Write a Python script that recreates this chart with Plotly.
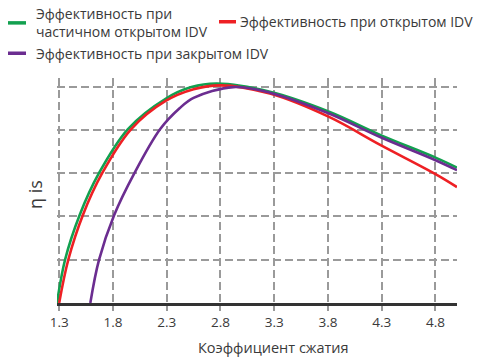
import plotly.graph_objects as go

# Compression ratio vs isentropic efficiency (grid units, no y labels)
x_partial = [1.28, 1.355, 1.49, 1.67, 1.94, 2.29, 2.53, 2.77, 3.26, 3.81, 4.29, 4.80, 5.00]
y_partial = [0.00, 1.00, 2.03, 3.00, 4.02, 4.72, 4.99, 5.07, 4.88, 4.42, 3.88, 3.36, 3.13]

x_open = [1.30, 1.385, 1.52, 1.70, 1.97, 2.29, 2.55, 2.80, 3.26, 3.81, 4.29, 4.80, 5.00]
y_open = [0.00, 1.00, 2.03, 3.00, 4.02, 4.67, 4.94, 5.03, 4.84, 4.30, 3.65, 2.98, 2.68]

x_closed = [1.59, 1.67, 1.81, 2.00, 2.24, 2.42, 2.55, 2.92, 3.26, 3.81, 4.29, 4.80, 5.00]
y_closed = [0.00, 0.99, 2.02, 3.00, 4.02, 4.50, 4.74, 4.99, 4.86, 4.38, 3.83, 3.30, 3.07]

x_ticks = [1.3, 1.8, 2.3, 2.8, 3.3, 3.8, 4.3, 4.8]
x_ticklabels = ["1.3", "1.8", "2.3", "2.8", "3.3", "3.8", "4.3", "4.8"]

names = ["Эффективность при<br>частичном открытом IDV",
         "Эффективность при открытом IDV",
         "Эффективность при закрытом IDV"]
colors = ["#12a04f", "#ee2024", "#6b2d90"]

FONT = "Open Sans"
TEXT = "#3a3a3a"

fig = go.Figure()

for xs, ys, name, col in [(x_partial, y_partial, names[0], colors[0]),
                          (x_open, y_open, names[1], colors[1]),
                          (x_closed, y_closed, names[2], colors[2])]:
    fig.add_trace(go.Scatter(
        x=xs, y=ys, mode="lines", name=name,
        line=dict(color=col, width=2.6, shape="spline"),
        showlegend=False
    ))

# hand-made legend (short keys like the original)
legend_pos = [(-0.1225, -0.0775, 1.245, -0.058),   # key x0, x1, y, text x
              (0.405, 0.4475, 1.250, 0.452),
              (-0.1225, -0.0775, 1.110, -0.058)]
for (x0, x1, y, tx), name, col in zip(legend_pos, names, colors):
    fig.add_shape(type="line", xref="paper", yref="paper",
                  x0=x0, x1=x1, y0=y, y1=y,
                  line=dict(color=col, width=3.5))
    fig.add_annotation(text=name, xref="paper", yref="paper",
                       x=tx, y=y, xanchor="left", yanchor="middle",
                       showarrow=False, align="left",
                       font=dict(family=FONT, size=14, color=TEXT))

fig.add_annotation(text="Коэффициент сжатия", xref="paper", yref="paper",
                   x=0.54, y=-0.198, xanchor="center", yanchor="middle",
                   showarrow=False, font=dict(family=FONT, size=14.5, color=TEXT))
fig.add_annotation(text="η is", xref="paper", yref="paper",
                   x=-0.055, y=0.48, xanchor="center", yanchor="middle",
                   textangle=-90, showarrow=False,
                   font=dict(family=FONT, size=18, color=TEXT))

fig.update_layout(
    width=479, height=358,
    margin=dict(l=57, r=22, t=78, b=55),
    template="plotly_white",
    plot_bgcolor="white", paper_bgcolor="white",
    font=dict(family=FONT, color=TEXT),
)
fig.update_xaxes(
    range=[1.28, 5.0], tickvals=x_ticks, ticktext=x_ticklabels,
    showgrid=True, gridcolor="#9a9a9a", gridwidth=1.5, griddash="8px,4px",
    ticks="outside", ticklen=5, tickcolor="#9a9a9a", tickwidth=1.5,
    showline=True, linecolor="#333333", linewidth=2.5,
    zeroline=False, tickfont=dict(size=13.5, color=TEXT)
)
fig.update_yaxes(
    range=[0, 5.2], dtick=1, showticklabels=False,
    showgrid=True, gridcolor="#9a9a9a", gridwidth=1.5, griddash="8px,4px",
    zeroline=False, showline=False
)

# drop the default page margin so the figure sits at the window's corner
fig.write_html("out.html", config={"displayModeBar": False},
               post_script="document.body.style.margin='0';")
